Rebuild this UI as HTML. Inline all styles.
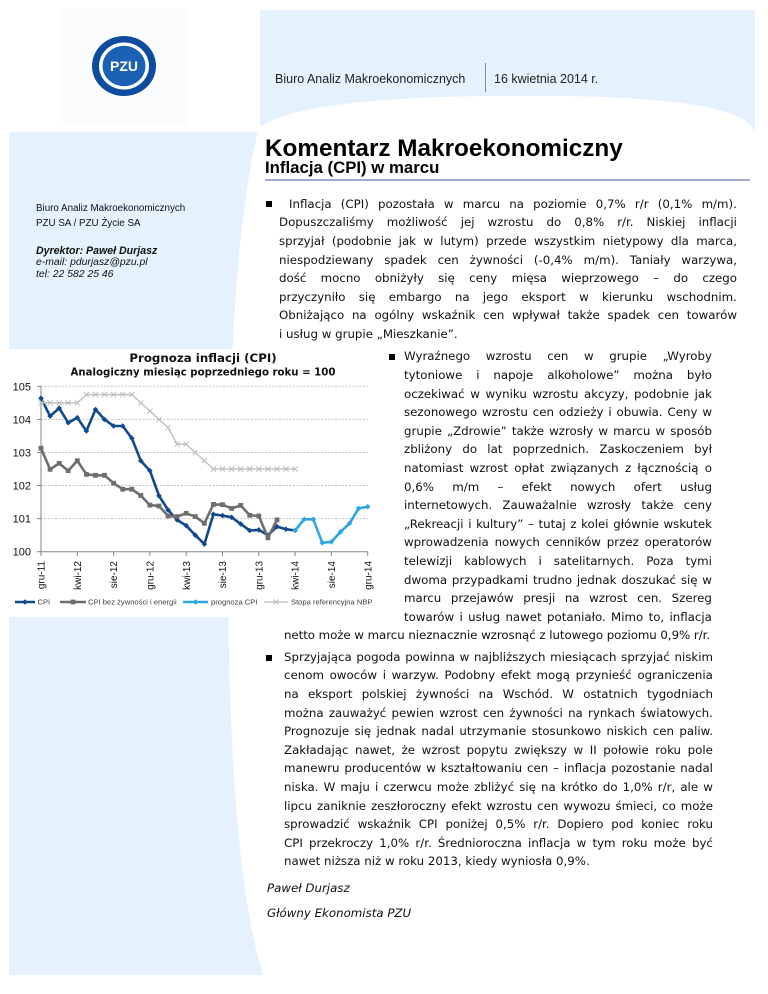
<!DOCTYPE html>
<html lang="pl">
<head>
<meta charset="utf-8">
<style>
html,body{margin:0;padding:0}
body{width:768px;height:994px;position:relative;overflow:hidden;background:#fff;font-family:"DejaVu Sans","Liberation Sans",sans-serif;color:#111}
svg.bg{position:absolute;left:0;top:0}
.f{position:absolute;display:flex;justify-content:space-between;white-space:nowrap;font-size:11.8px;line-height:18.6px;height:18.6px}
.p{position:absolute;white-space:nowrap;font-size:11.8px;line-height:18.6px}
.t{position:absolute;white-space:nowrap;font-family:"Liberation Sans",sans-serif;line-height:1.2;color:#111}
.sq{position:absolute;width:6px;height:6px;background:#000}
</style>
</head>
<body>
<svg class="bg" width="768" height="994" viewBox="0 0 768 994" xmlns="http://www.w3.org/2000/svg">
  <defs>
    <marker id="mB" viewBox="-4 -4 8 8" markerWidth="8" markerHeight="8" markerUnits="userSpaceOnUse" refX="0" refY="0"><path d="M0,-2.8L2.8,0L0,2.8L-2.8,0Z" fill="#11498f"/></marker>
    <marker id="mG" viewBox="-4 -4 8 8" markerWidth="8" markerHeight="8" markerUnits="userSpaceOnUse" refX="0" refY="0"><rect x="-2.4" y="-2.4" width="4.8" height="4.8" fill="#6e6e6e"/></marker>
    <marker id="mL" viewBox="-4 -4 8 8" markerWidth="8" markerHeight="8" markerUnits="userSpaceOnUse" refX="0" refY="0"><path d="M0,-2.8L2.8,0L0,2.8L-2.8,0Z" fill="#2ea5e6"/></marker>
    <marker id="mX" viewBox="-4 -4 8 8" markerWidth="8" markerHeight="8" markerUnits="userSpaceOnUse" refX="0" refY="0"><path d="M-2.6,-2.6L2.6,2.6M-2.6,2.6L2.6,-2.6" stroke="#bdbdbd" stroke-width="1" fill="none"/></marker>
  </defs>

  <!-- backgrounds -->
  <rect x="59" y="8" width="129" height="117" fill="#fafcfe"/>
  <path d="M260,10 H755 V132 C748,112 700,98 560,96 C420,95 300,100 260,127 Z" fill="#e5f1fd"/>
  <path d="M9,132 L258,132 C236,220 228,380 228,560 C228,760 240,900 263,975 L9,975 Z" fill="#e5f1fd"/>

  <!-- logo -->
  <ellipse cx="124" cy="66" rx="32" ry="30" fill="#0d4c9e"/>
  <ellipse cx="124" cy="66" rx="25" ry="23.5" fill="#ffffff"/>
  <ellipse cx="124" cy="66" rx="21.5" ry="20.2" fill="#1b62b4"/>
  <text x="124" y="71" text-anchor="middle" font-family="Liberation Sans, sans-serif" font-weight="bold" font-size="14" fill="#ffffff">PZU</text>

  <!-- header divider -->
  <line x1="485.5" y1="63" x2="485.5" y2="92" stroke="#8a8a8a" stroke-width="1"/>
  <!-- title underline -->
  <rect x="265" y="179" width="485" height="2" fill="#a3a6d8"/>

  <!-- chart box -->
  <rect x="9" y="349" width="372" height="268" fill="#ffffff"/>
  <text x="203" y="362" text-anchor="middle" font-family="DejaVu Sans, sans-serif" font-weight="bold" font-size="11.8" fill="#111">Prognoza inflacji (CPI)</text>
  <text x="203" y="375.5" text-anchor="middle" font-family="DejaVu Sans, sans-serif" font-weight="bold" font-size="10.2" fill="#111">Analogiczny miesiąc poprzedniego roku = 100</text>

  <!-- gridlines -->
  <g stroke="#c2c2c2" stroke-width="1" stroke-dasharray="2 1.5">
    <line x1="41" y1="386.3" x2="368" y2="386.3"/>
    <line x1="41" y1="419.4" x2="368" y2="419.4"/>
    <line x1="41" y1="452.5" x2="368" y2="452.5"/>
    <line x1="41" y1="485.5" x2="368" y2="485.5"/>
    <line x1="41" y1="518.6" x2="368" y2="518.6"/>
  </g>
  <!-- axes -->
  <g stroke="#868686" stroke-width="1">
    <line x1="41" y1="386.3" x2="41" y2="552"/>
    <line x1="41" y1="551.7" x2="368" y2="551.7"/>
    <line x1="37" y1="386.3" x2="41" y2="386.3"/>
    <line x1="37" y1="419.4" x2="41" y2="419.4"/>
    <line x1="37" y1="452.5" x2="41" y2="452.5"/>
    <line x1="37" y1="485.5" x2="41" y2="485.5"/>
    <line x1="37" y1="518.6" x2="41" y2="518.6"/>
    <line x1="37" y1="551.7" x2="41" y2="551.7"/>
    <line x1="41" y1="551.7" x2="41" y2="556"/>
    <line x1="77.3" y1="551.7" x2="77.3" y2="556"/>
    <line x1="113.6" y1="551.7" x2="113.6" y2="556"/>
    <line x1="149.9" y1="551.7" x2="149.9" y2="556"/>
    <line x1="186.2" y1="551.7" x2="186.2" y2="556"/>
    <line x1="222.5" y1="551.7" x2="222.5" y2="556"/>
    <line x1="258.8" y1="551.7" x2="258.8" y2="556"/>
    <line x1="295.1" y1="551.7" x2="295.1" y2="556"/>
    <line x1="331.4" y1="551.7" x2="331.4" y2="556"/>
    <line x1="367.7" y1="551.7" x2="367.7" y2="556"/>
  </g>
  <!-- y labels -->
  <g font-family="Liberation Sans, sans-serif" font-size="11" fill="#111" text-anchor="end">
    <text x="31" y="390.3">105</text>
    <text x="31" y="423.4">104</text>
    <text x="31" y="456.5">103</text>
    <text x="31" y="489.5">102</text>
    <text x="31" y="522.6">101</text>
    <text x="31" y="555.7">100</text>
  </g>
  <!-- x labels -->
  <g font-family="Liberation Sans, sans-serif" font-size="10" fill="#111" text-anchor="end">
    <text transform="translate(44.6,561) rotate(-90)">gru-11</text>
    <text transform="translate(80.9,561) rotate(-90)">kwi-12</text>
    <text transform="translate(117.2,561) rotate(-90)">sie-12</text>
    <text transform="translate(153.5,561) rotate(-90)">gru-12</text>
    <text transform="translate(189.8,561) rotate(-90)">kwi-13</text>
    <text transform="translate(226.1,561) rotate(-90)">sie-13</text>
    <text transform="translate(262.4,561) rotate(-90)">gru-13</text>
    <text transform="translate(298.7,561) rotate(-90)">kwi-14</text>
    <text transform="translate(335,561) rotate(-90)">sie-14</text>
    <text transform="translate(371.3,561) rotate(-90)">gru-14</text>
  </g>

  <!-- series -->
  <polyline fill="none" stroke="#11498f" stroke-width="2.6" stroke-linejoin="round" marker-start="url(#mB)" marker-mid="url(#mB)" marker-end="url(#mB)"
    points="41,398.2 50.1,416.1 59.2,408.1 68.2,422.7 77.3,417.7 86.4,431.0 95.5,409.5 104.5,419.4 113.6,426.0 122.7,426.0 131.8,438.2 140.8,460.7 149.9,470.7 159.0,495.8 168.1,510.0 177.1,519.9 186.2,525.6 195.3,535.2 204.4,544.1 213.4,514.3 222.5,515.6 231.6,517.3 240.7,523.9 249.7,530.5 258.8,529.9 267.9,535.2 277.0,526.6 286.0,529.2 295.1,530.5"/>
  <polyline fill="none" stroke="#6e6e6e" stroke-width="2.6" stroke-linejoin="round" marker-start="url(#mG)" marker-mid="url(#mG)" marker-end="url(#mG)"
    points="41,448.2 50.1,469.3 59.2,463.4 68.2,470.7 77.3,460.7 86.4,474.3 95.5,475.3 104.5,475.3 113.6,483.2 122.7,489.2 131.8,489.2 140.8,495.5 149.9,505.1 159.0,506.0 168.1,516.0 177.1,516.6 186.2,513.3 195.3,516.6 204.4,523.3 213.4,504.4 222.5,504.7 231.6,508.4 240.7,505.4 249.7,515.3 258.8,516.0 267.9,537.8 277.0,519.9"/>
  <polyline fill="none" stroke="#2ea5e6" stroke-width="2.6" stroke-linejoin="round" marker-start="url(#mL)" marker-mid="url(#mL)" marker-end="url(#mL)"
    points="295.1,530.5 304.2,519.3 313.3,519.3 322.3,542.8 331.4,541.8 340.5,531.9 349.6,523.3 358.6,508.4 367.7,506.7"/>
  <polyline fill="none" stroke="#c3c3c3" stroke-width="1.5" stroke-linejoin="round" marker-start="url(#mX)" marker-mid="url(#mX)" marker-end="url(#mX)"
    points="41,402.8 50.1,402.8 59.2,402.8 68.2,402.8 77.3,402.8 86.4,394.6 95.5,394.6 104.5,394.6 113.6,394.6 122.7,394.6 131.8,394.6 140.8,402.8 149.9,411.1 159.0,419.4 168.1,427.7 177.1,444.2 186.2,444.2 195.3,452.5 204.4,460.7 213.4,469.0 222.5,469.0 231.6,469.0 240.7,469.0 249.7,469.0 258.8,469.0 267.9,469.0 277.0,469.0 286.0,469.0 295.1,469.0"/>

  <!-- legend -->
  <line x1="15" y1="602" x2="35" y2="602" stroke="#11498f" stroke-width="2.6"/>
  <path d="M25,599.2L27.8,602L25,604.8L22.2,602Z" fill="#11498f"/>
  <line x1="60" y1="602" x2="86" y2="602" stroke="#6e6e6e" stroke-width="2.6"/>
  <rect x="70.6" y="599.6" width="4.8" height="4.8" fill="#6e6e6e"/>
  <line x1="183" y1="602" x2="208" y2="602" stroke="#2ea5e6" stroke-width="2.6"/>
  <path d="M195.5,599.2L198.3,602L195.5,604.8L192.7,602Z" fill="#2ea5e6"/>
  <line x1="264" y1="602" x2="288" y2="602" stroke="#c3c3c3" stroke-width="1.5"/>
  <path d="M273.4,599.4L278.6,604.6M273.4,604.6L278.6,599.4" stroke="#bdbdbd" stroke-width="1"/>
  <g font-family="Liberation Sans, sans-serif" font-size="7.6" fill="#404040">
    <text x="37.5" y="604.7">CPI</text>
    <text x="88" y="604.7">CPI bez żywności i energii</text>
    <text x="211" y="604.7">prognoza CPI</text>
    <text x="291" y="604.7">Stopa referencyjna NBP</text>
  </g>
</svg>

<!-- header -->
<div class="t" style="left:275px;top:71.5px;font-size:12.5px;color:#222">Biuro Analiz Makroekonomicznych</div>
<div class="t" style="left:494px;top:71.5px;font-size:12.5px;color:#222">16 kwietnia 2014 r.</div>
<div class="t" style="left:265px;top:134.3px;font-size:24.3px;font-weight:bold;color:#000">Komentarz Makroekonomiczny</div>
<div class="t" style="left:265px;top:158px;font-size:16.8px;font-weight:bold;color:#000">Inflacja (CPI) w marcu</div>

<!-- left column -->
<div class="t" style="left:36px;top:203.2px;font-size:9.8px">Biuro Analiz Makroekonomicznych</div>
<div class="t" style="left:36px;top:217.5px;font-size:9.8px">PZU SA / PZU Życie SA</div>
<div class="t" style="left:36px;top:245.2px;font-size:10.6px;font-weight:bold;font-style:italic">Dyrektor: Paweł Durjasz</div>
<div class="t" style="left:36px;top:257.4px;font-size:10.4px;font-style:italic">e-mail: pdurjasz@pzu.pl</div>
<div class="t" style="left:36px;top:268.9px;font-size:10.4px;font-style:italic">tel: 22 582 25 46</div>

<!-- bullet 1 -->
<div class="sq" style="left:266px;top:200.7px"></div>
<div class="f" style="top:194.7px;left:289px;width:448px"><span>Inflacja</span><span>(CPI)</span><span>pozostała</span><span>w</span><span>marcu</span><span>na</span><span>poziomie</span><span>0,7%</span><span>r/r</span><span>(0,1%</span><span>m/m).</span></div>
<div class="f" style="top:213.3px;left:279px;width:458px"><span>Dopuszczaliśmy</span><span>możliwość</span><span>jej</span><span>wzrostu</span><span>do</span><span>0,8%</span><span>r/r.</span><span>Niskiej</span><span>inflacji</span></div>
<div class="f" style="top:231.9px;left:279px;width:458px"><span>sprzyjał</span><span>(podobnie</span><span>jak</span><span>w</span><span>lutym)</span><span>przede</span><span>wszystkim</span><span>nietypowy</span><span>dla</span><span>marca,</span></div>
<div class="f" style="top:250.5px;left:279px;width:458px"><span>niespodziewany</span><span>spadek</span><span>cen</span><span>żywności</span><span>(-0,4%</span><span>m/m).</span><span>Taniały</span><span>warzywa,</span></div>
<div class="f" style="top:269.1px;left:279px;width:458px"><span>dość</span><span>mocno</span><span>obniżyły</span><span>się</span><span>ceny</span><span>mięsa</span><span>wieprzowego</span><span>–</span><span>do</span><span>czego</span></div>
<div class="f" style="top:287.7px;left:279px;width:458px"><span>przyczyniło</span><span>się</span><span>embargo</span><span>na</span><span>jego</span><span>eksport</span><span>w</span><span>kierunku</span><span>wschodnim.</span></div>
<div class="f" style="top:306.3px;left:279px;width:458px"><span>Obniżająco</span><span>na</span><span>ogólny</span><span>wskaźnik</span><span>cen</span><span>wpływał</span><span>także</span><span>spadek</span><span>cen</span><span>towarów</span></div>
<div class="p" style="top:324.9px;left:279px">i usług w grupie „Mieszkanie”.</div>

<!-- bullet 2 -->
<div class="sq" style="left:389px;top:353.5px"></div>
<div class="f" style="top:347.4px;left:404px;width:308px"><span>Wyraźnego</span><span>wzrostu</span><span>cen</span><span>w</span><span>grupie</span><span>„Wyroby</span></div>
<div class="f" style="top:366.0px;left:404px;width:308px"><span>tytoniowe</span><span>i</span><span>napoje</span><span>alkoholowe”</span><span>można</span><span>było</span></div>
<div class="f" style="top:384.6px;left:404px;width:308px"><span>oczekiwać</span><span>w</span><span>wyniku</span><span>wzrostu</span><span>akcyzy,</span><span>podobnie</span><span>jak</span></div>
<div class="f" style="top:403.2px;left:404px;width:308px"><span>sezonowego</span><span>wzrostu</span><span>cen</span><span>odzieży</span><span>i</span><span>obuwia.</span><span>Ceny</span><span>w</span></div>
<div class="f" style="top:421.8px;left:404px;width:308px"><span>grupie</span><span>„Zdrowie”</span><span>także</span><span>wzrosły</span><span>w</span><span>marcu</span><span>w</span><span>sposób</span></div>
<div class="f" style="top:440.4px;left:404px;width:308px"><span>zbliżony</span><span>do</span><span>lat</span><span>poprzednich.</span><span>Zaskoczeniem</span><span>był</span></div>
<div class="f" style="top:459.0px;left:404px;width:308px"><span>natomiast</span><span>wzrost</span><span>opłat</span><span>związanych</span><span>z</span><span>łącznością</span><span>o</span></div>
<div class="f" style="top:477.6px;left:404px;width:308px"><span>0,6%</span><span>m/m</span><span>–</span><span>efekt</span><span>nowych</span><span>ofert</span><span>usług</span></div>
<div class="f" style="top:496.2px;left:404px;width:308px"><span>internetowych.</span><span>Zauważalnie</span><span>wzrosły</span><span>także</span><span>ceny</span></div>
<div class="f" style="top:514.8px;left:404px;width:308px"><span>„Rekreacji</span><span>i</span><span>kultury”</span><span>–</span><span>tutaj</span><span>z</span><span>kolei</span><span>głównie</span><span>wskutek</span></div>
<div class="f" style="top:533.4px;left:404px;width:308px"><span>wprowadzenia</span><span>nowych</span><span>cenników</span><span>przez</span><span>operatorów</span></div>
<div class="f" style="top:552.0px;left:404px;width:308px"><span>telewizji</span><span>kablowych</span><span>i</span><span>satelitarnych.</span><span>Poza</span><span>tymi</span></div>
<div class="f" style="top:570.6px;left:404px;width:308px"><span>dwoma</span><span>przypadkami</span><span>trudno</span><span>jednak</span><span>doszukać</span><span>się</span><span>w</span></div>
<div class="f" style="top:589.2px;left:404px;width:308px"><span>marcu</span><span>przejawów</span><span>presji</span><span>na</span><span>wzrost</span><span>cen.</span><span>Szereg</span></div>
<div class="f" style="top:607.8px;left:404px;width:308px"><span>towarów</span><span>i</span><span>usług</span><span>nawet</span><span>potaniało.</span><span>Mimo</span><span>to,</span><span>inflacja</span></div>
<div class="p" style="top:626.4px;left:284px;letter-spacing:-0.05px">netto może w marcu nieznacznie wzrosnąć z lutowego poziomu 0,9% r/r.</div>

<!-- bullet 3 -->
<div class="sq" style="left:266px;top:654.5px"></div>
<div class="f" style="top:647.7px;left:284px;width:429px"><span>Sprzyjająca</span><span>pogoda</span><span>powinna</span><span>w</span><span>najbliższych</span><span>miesiącach</span><span>sprzyjać</span><span>niskim</span></div>
<div class="f" style="top:666.3px;left:284px;width:429px"><span>cenom</span><span>owoców</span><span>i</span><span>warzyw.</span><span>Podobny</span><span>efekt</span><span>mogą</span><span>przynieść</span><span>ograniczenia</span></div>
<div class="f" style="top:684.9px;left:284px;width:429px"><span>na</span><span>eksport</span><span>polskiej</span><span>żywności</span><span>na</span><span>Wschód.</span><span>W</span><span>ostatnich</span><span>tygodniach</span></div>
<div class="f" style="top:703.5px;left:284px;width:429px"><span>można</span><span>zauważyć</span><span>pewien</span><span>wzrost</span><span>cen</span><span>żywności</span><span>na</span><span>rynkach</span><span>światowych.</span></div>
<div class="f" style="top:722.1px;left:284px;width:429px"><span>Prognozuje</span><span>się</span><span>jednak</span><span>nadal</span><span>utrzymanie</span><span>stosunkowo</span><span>niskich</span><span>cen</span><span>paliw.</span></div>
<div class="f" style="top:740.7px;left:284px;width:429px"><span>Zakładając</span><span>nawet,</span><span>że</span><span>wzrost</span><span>popytu</span><span>zwiększy</span><span>w</span><span>II</span><span>połowie</span><span>roku</span><span>pole</span></div>
<div class="f" style="top:759.3px;left:284px;width:429px"><span>manewru</span><span>producentów</span><span>w</span><span>kształtowaniu</span><span>cen</span><span>–</span><span>inflacja</span><span>pozostanie</span><span>nadal</span></div>
<div class="f" style="top:777.9px;left:284px;width:429px"><span>niska.</span><span>W</span><span>maju</span><span>i</span><span>czerwcu</span><span>może</span><span>zbliżyć</span><span>się</span><span>na</span><span>krótko</span><span>do</span><span>1,0%</span><span>r/r,</span><span>ale</span><span>w</span></div>
<div class="f" style="top:796.5px;left:284px;width:429px"><span>lipcu</span><span>zaniknie</span><span>zeszłoroczny</span><span>efekt</span><span>wzrostu</span><span>cen</span><span>wywozu</span><span>śmieci,</span><span>co</span><span>może</span></div>
<div class="f" style="top:815.1px;left:284px;width:429px"><span>sprowadzić</span><span>wskaźnik</span><span>CPI</span><span>poniżej</span><span>0,5%</span><span>r/r.</span><span>Dopiero</span><span>pod</span><span>koniec</span><span>roku</span></div>
<div class="f" style="top:833.7px;left:284px;width:429px"><span>CPI</span><span>przekroczy</span><span>1,0%</span><span>r/r.</span><span>Średnioroczna</span><span>inflacja</span><span>w</span><span>tym</span><span>roku</span><span>może</span><span>być</span></div>
<div class="p" style="top:852.3px;left:284px">nawet niższa niż w roku 2013, kiedy wyniosła 0,9%.</div>

<!-- signature -->
<div class="p" style="top:878.7px;left:267px;font-style:italic">Paweł Durjasz</div>
<div class="p" style="top:903.7px;left:267px;font-style:italic">Główny Ekonomista PZU</div>
</body>
</html>
